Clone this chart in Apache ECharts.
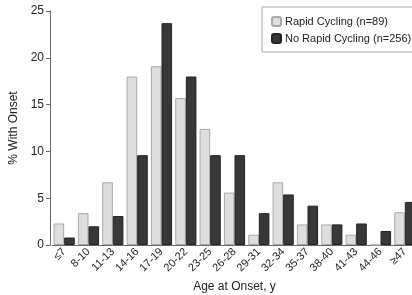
<!DOCTYPE html>
<html>
<head>
<meta charset="utf-8">
<script src="https://cdn.jsdelivr.net/npm/echarts@6/dist/echarts.min.js"></script>
<style>
  html, body { margin: 0; padding: 0; background: #fff; }
  #chart { width: 412px; height: 295px; }
</style>
</head>
<body>
<div id="chart"></div>
<script>
// 数据
const ageGroups = ['≤7', '8-10', '11-13', '14-16', '17-19', '20-22', '23-25', '26-28',
  '29-31', '32-34', '35-37', '38-40', '41-43', '44-46', '≥47']
const rapidCycling = [2.3, 3.4, 6.7, 18.0, 19.1, 15.7, 12.4, 5.6, 1.1, 6.7, 2.2, 2.2, 1.1, 0, 3.5]
const noRapidCycling = [0.8, 2.0, 3.1, 9.6, 23.7, 18.0, 9.6, 9.6, 3.4, 5.4, 4.2, 2.2, 2.3, 1.5, 4.6]
const yTicks = [0, 5, 10, 15, 20, 25]

const font = '"Liberation Sans Narrow", "Liberation Sans", Arial, sans-serif'

let myChart = echarts.init(document.getElementById('chart'))

let opt = {
  animation: false,
  textStyle: { fontFamily: font },
  // 图例
  legend: {
    data: ['Rapid Cycling (n=89)', 'No Rapid Cycling (n=256)'],
    orient: 'vertical',
    left: 262,
    top: 7,
    padding: [9, 20, 8, 9],
    itemWidth: 9,
    itemHeight: 9,
    itemGap: 6,
    borderColor: '#aaa',
    borderWidth: 1,
    textStyle: { fontFamily: font, fontSize: 11, color: '#222', padding: [0, 0, 0, -1] }
  },
  grid: { left: 52, right: -5, top: 11, bottom: 50, outerBoundsMode: 'none' },
  // x轴
  xAxis: {
    type: 'category',
    data: ageGroups,
    name: 'Age at Onset, y',
    nameLocation: 'middle',
    nameGap: 34,
    nameTextStyle: { fontFamily: font, fontSize: 12, color: '#222' },
    axisLine: { lineStyle: { color: '#666' } },
    axisTick: { show: false },
    axisLabel: { rotate: 45, fontSize: 11, color: '#222', margin: 5, interval: 0 }
  },
  // y轴
  yAxis: {
    type: 'value',
    min: yTicks[0],
    max: yTicks[yTicks.length - 1],
    interval: 5,
    offset: 2,
    name: '% With Onset',
    nameLocation: 'middle',
    nameGap: 28,
    nameTextStyle: { fontFamily: font, fontSize: 12, color: '#222' },
    axisLine: { show: true, lineStyle: { color: '#666' } },
    axisTick: { show: true, length: 4, lineStyle: { color: '#666' } },
    axisLabel: { fontSize: 12, color: '#222', margin: 6 },
    splitLine: { show: false }
  },
  // 数据
  series: [{
    name: 'Rapid Cycling (n=89)',
    type: 'bar',
    data: rapidCycling,
    barGap: '0%',
    barCategoryGap: '13%',
    itemStyle: { color: '#dedede', borderColor: '#a8a8a8', borderWidth: 1 }
  }, {
    name: 'No Rapid Cycling (n=256)',
    type: 'bar',
    data: noRapidCycling,
    itemStyle: { color: '#383838', borderColor: '#222', borderWidth: 1 }
  }]
}

myChart.setOption(opt)
</script>
</body>
</html>
